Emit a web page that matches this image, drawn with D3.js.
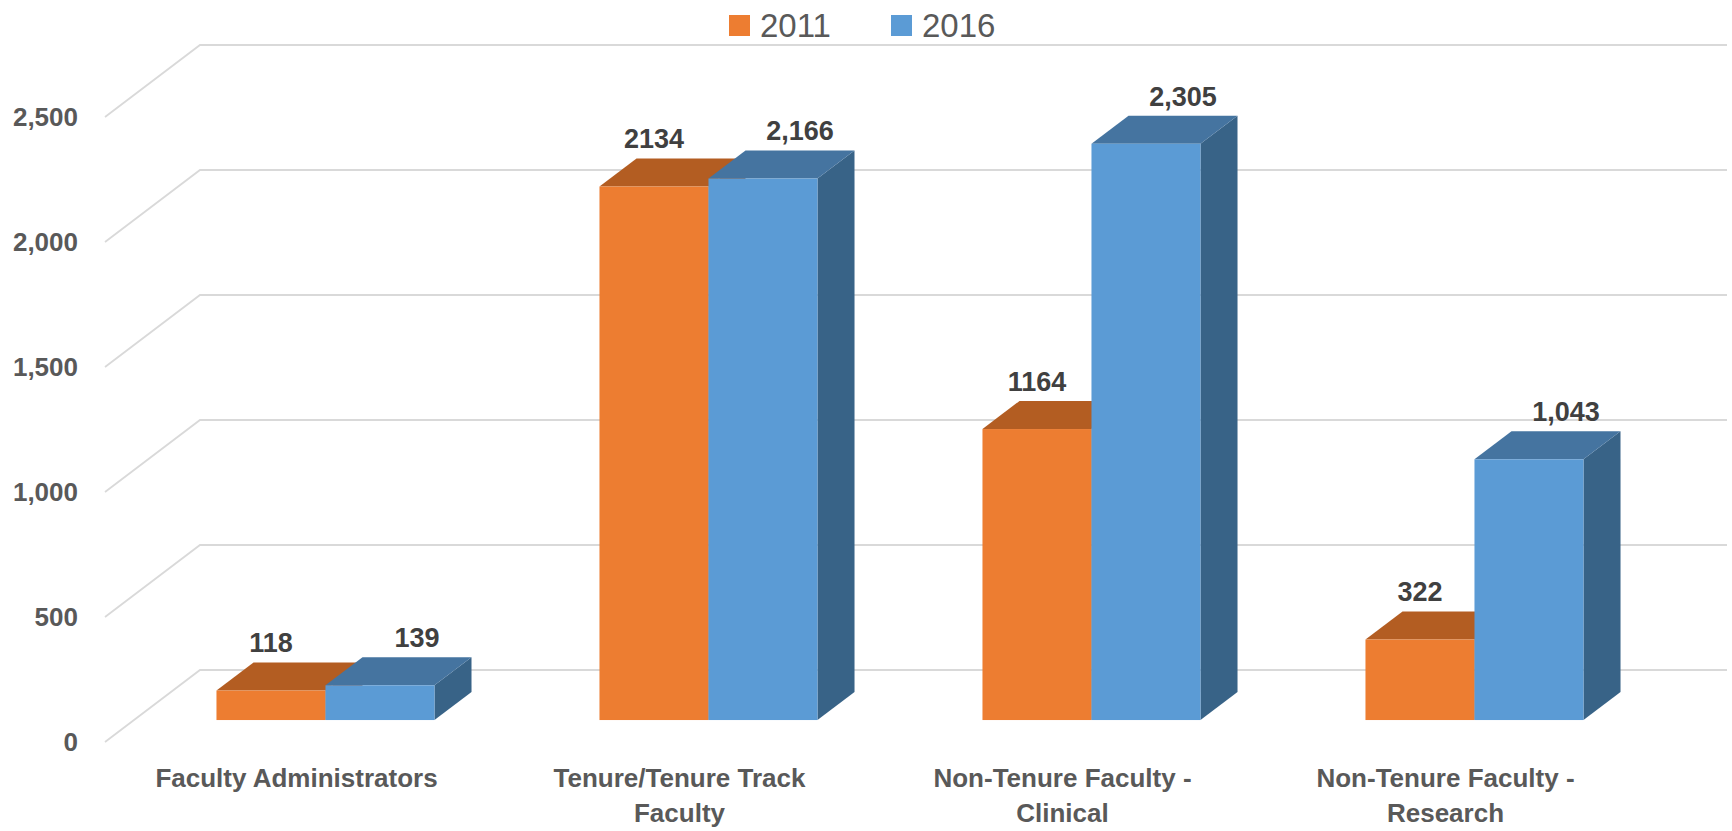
<!DOCTYPE html>
<html>
<head>
<meta charset="utf-8">
<script src="https://cdn.jsdelivr.net/npm/d3@7"></script>
<style>
  html, body { margin: 0; padding: 0; background: #fff; }
  svg { display: block; font-family: "Liberation Sans", Arial, sans-serif; }
</style>
</head>
<body>
<svg id="chart" width="1732" height="831"></svg>
<script>
// categories, with their line breaks as drawn under the axis
const categories = ["Faculty Administrators", "Tenure/Tenure Track Faculty", "Non-Tenure Faculty - Clinical", "Non-Tenure Faculty - Research"];
const categoryLines = [
  ["Faculty Administrators"],
  ["Tenure/Tenure Track", "Faculty"],
  ["Non-Tenure Faculty -", "Clinical"],
  ["Non-Tenure Faculty -", "Research"]
];
const seriesNames = ["2011", "2016"];
const values2011 = [118, 2134, 1164, 322];
const values2016 = [139, 2166, 2305, 1043];
const yTicks = [0, 500, 1000, 1500, 2000, 2500];

const seriesStyle = {
  "2011": { front: "#ED7D31", top: "#B35D22", side: "#A9561F", labelFmt: d3.format("d"), labelDepth: 0 },
  "2016": { front: "#5B9BD5", top: "#4574A0", side: "#386387", labelFmt: d3.format(","), labelDepth: 1 }
};

const svg = d3.select("#chart");

// front plane of the floor, and the oblique depth offset
const plotLeft = 105, plotRight = 1637, plotBottom = 742, plotTop = 117;
const DX = 95, DY = 72;
const z0 = 0.305, z1 = 0.695;   // bar depth inside the floor

const x0 = d3.scaleBand().domain(categories).range([plotLeft, plotRight]).paddingInner(0.4308).paddingOuter(0.2154);
const x1 = d3.scaleBand().domain(seriesNames).range([0, x0.bandwidth()]);
const y = d3.scaleLinear().domain([0, 2500]).range([plotBottom, plotTop]);

const px = (x, z) => x + z * DX;
const py = (yy, z) => yy - z * DY;

// gridlines: diagonal on the side wall, then flat along the back wall
const grid = svg.append("g");
yTicks.forEach(v => {
  grid.append("path")
    .attr("d", d3.line()([[plotLeft, y(v)], [px(plotLeft, 1), py(y(v), 1)], [1727, py(y(v), 1)]]))
    .attr("fill", "none")
    .attr("stroke", "#D9D9D9")
    .attr("stroke-width", 1.8);
});

// y labels
svg.append("g").selectAll("text")
  .data(yTicks)
  .enter().append("text")
  .attr("x", 78)
  .attr("y", d => y(d))
  .attr("dy", "0.36em")
  .attr("text-anchor", "end")
  .attr("font-size", 26)
  .attr("font-weight", "bold")
  .attr("fill", "#595959")
  .text(d3.format(","));

// bars
const rows = [];
categories.forEach((c, i) => {
  rows.push({ cat: c, s: "2011", v: values2011[i] });
  rows.push({ cat: c, s: "2016", v: values2016[i] });
});

const bars = svg.append("g");
rows.forEach(d => {
  const st = seriesStyle[d.s];
  const xa = px(x0(d.cat) + x1(d.s), z0);
  const xb = xa + x1.bandwidth();
  const yb = py(y(0), z0);
  const yt = py(y(d.v), z0);
  const ddx = (z1 - z0) * DX, ddy = (z1 - z0) * DY;
  const g = bars.append("g");
  g.append("path")
    .attr("d", d3.line()([[xb, yt], [xb + ddx, yt - ddy], [xb + ddx, yb - ddy], [xb, yb]]) + "Z")
    .attr("fill", st.side);
  g.append("path")
    .attr("d", d3.line()([[xa, yt], [xa + ddx, yt - ddy], [xb + ddx, yt - ddy], [xb, yt]]) + "Z")
    .attr("fill", st.top);
  g.append("rect")
    .attr("x", xa).attr("y", yt)
    .attr("width", xb - xa).attr("height", yb - yt)
    .attr("fill", st.front);
});

// data labels
svg.append("g").selectAll("text")
  .data(rows)
  .enter().append("text")
  .attr("x", d => px(x0(d.cat) + x1(d.s) + x1.bandwidth() / 2, z0 + seriesStyle[d.s].labelDepth * (z1 - z0)))
  .attr("y", d => py(y(d.v), z1) - 10)
  .attr("text-anchor", "middle")
  .attr("font-size", 27)
  .attr("font-weight", "bold")
  .attr("fill", "#404040")
  .text(d => seriesStyle[d.s].labelFmt(d.v));

// category labels
const cl = svg.append("g").selectAll("text")
  .data(categories)
  .enter().append("text")
  .attr("text-anchor", "middle")
  .attr("font-size", 26)
  .attr("font-weight", "bold")
  .attr("fill", "#595959");
cl.each(function(d, i) {
  const t = d3.select(this);
  categoryLines[i].forEach((line, j) => {
    t.append("tspan")
      .attr("x", x0(d) + x0.bandwidth() / 2)
      .attr("y", 787 + j * 35)
      .text(line);
  });
});

// legend
const legendX = [729, 891];
const legend = svg.append("g").selectAll("g")
  .data(seriesNames)
  .enter().append("g")
  .attr("transform", (d, i) => "translate(" + legendX[i] + ",15)");
legend.append("rect")
  .attr("width", 21).attr("height", 21)
  .attr("fill", d => seriesStyle[d].front);
legend.append("text")
  .attr("x", 31)
  .attr("y", 22)
  .attr("font-size", 33)
  .attr("fill", "#595959")
  .text(d => d);
</script>
</body>
</html>
